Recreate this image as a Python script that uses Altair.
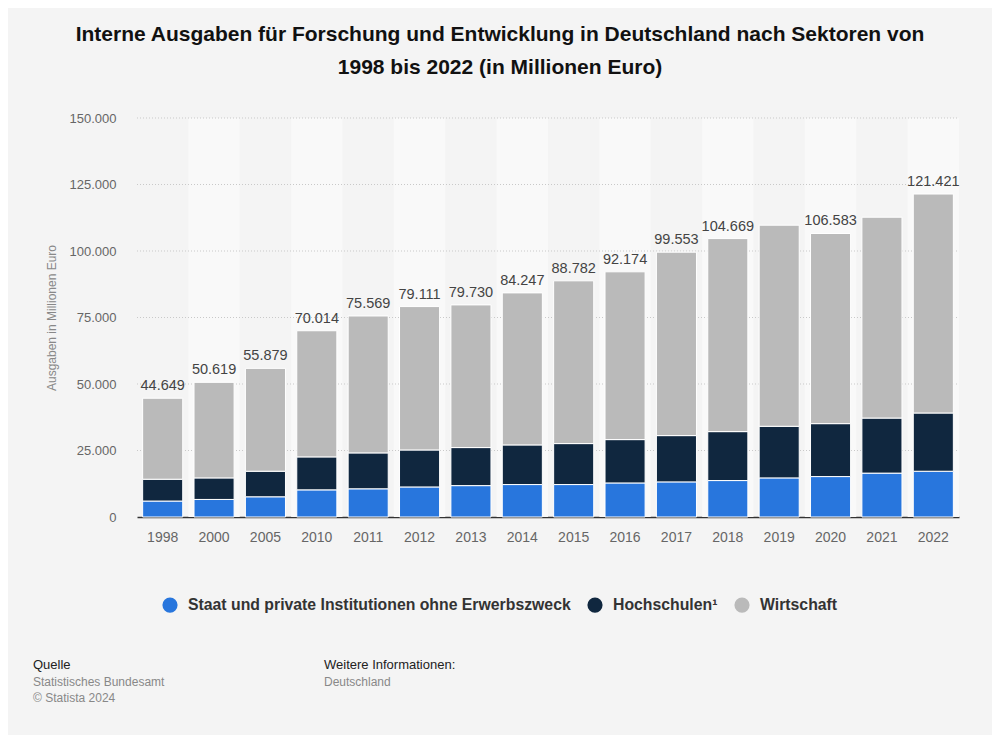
import altair as alt
import pandas as pd

years = ["1998", "2000", "2005", "2010", "2011", "2012", "2013", "2014",
         "2015", "2016", "2017", "2018", "2019", "2020", "2021", "2022"]
staat = [6000, 6600, 7600, 10200, 10600, 11300, 11800, 12200,
         12200, 12800, 13200, 13700, 14700, 15200, 16500, 17200]
hochschulen = [8200, 8100, 9600, 12400, 13500, 13900, 14300, 14900,
               15400, 16300, 17400, 18400, 19400, 19900, 20700, 21900]
wirtschaft = [30449, 35919, 38679, 47414, 51469, 53911, 53630, 57147,
              61182, 63074, 68953, 72569, 75600, 71483, 75500, 82321]
total_labels = ["44.649", "50.619", "55.879", "70.014", "75.569", "79.111", "79.730", "84.247",
                "88.782", "92.174", "99.553", "104.669", "", "106.583", "", "121.421"]
series_names = ["Staat und private Institutionen ohne Erwerbszweck", "Hochschulen¹", "Wirtschaft"]
series_colors = ["#2876dd", "#10273f", "#bababa"]
band_years = ["2000", "2010", "2012", "2014", "2016", "2018", "2020", "2022"]
grid_values = [25000, 50000, 75000, 100000, 125000, 150000]

rows = []
for i, y in enumerate(years):
    for k, vals in enumerate([staat, hochschulen, wirtschaft]):
        rows.append({"Jahr": y, "Sektor": series_names[k], "Wert": vals[i], "ord": k})
df = pd.DataFrame(rows)
totals = pd.DataFrame({
    "Jahr": years,
    "Total": [staat[i] + hochschulen[i] + wirtschaft[i] for i in range(len(years))],
    "Label": total_labels,
})
bands = pd.DataFrame({"Jahr": band_years, "top": [150000] * len(band_years), "bot": [0] * len(band_years)})
grid = pd.DataFrame({"v": grid_values})

W, H = 822, 399
xscale = alt.Scale(domain=years, paddingInner=0.22, paddingOuter=0.11)
yscale = alt.Scale(domain=[0, 150000])
xenc = alt.X("Jahr:N", scale=xscale, sort=years,
             axis=alt.Axis(title=None, labelAngle=0, labelFontSize=14, labelColor="#666666",
                           labelPadding=13, ticks=False, domainColor="#333333", domainWidth=1.5,
                           labelFont="Liberation Sans"))

band_layer = alt.Chart(bands).mark_bar(color="#f9f9f9", width=alt.RelativeBandSize(1.282)).encode(
    x=xenc,
    y=alt.Y("top:Q", scale=yscale,
            axis=alt.Axis(title=None, values=[0] + grid_values, grid=False, domain=False, ticks=False,
                          labelFontSize=13, labelColor="#666666", labelPadding=21,
                          labelFont="Liberation Sans",
                          labelExpr="replace(format(datum.value, ','), ',', '.')")),
    y2="bot:Q",
)

grid_layer = alt.Chart(grid).mark_rule(color="#c9c9c9", strokeDash=[1, 2], strokeWidth=1).encode(
    y=alt.Y("v:Q", scale=yscale),
    x=alt.value(0), x2=alt.value(W),
)

bar_layer = alt.Chart(df).mark_bar(stroke="#ffffff", strokeWidth=1).encode(
    x=xenc,
    y=alt.Y("Wert:Q", stack="zero", scale=yscale),
    color=alt.Color("Sektor:N",
                    scale=alt.Scale(domain=series_names, range=series_colors),
                    legend=alt.Legend(title=None, orient="none", direction="horizontal",
                                      legendX=25, legendY=479, symbolType="circle", symbolSize=230,
                                      symbolStrokeWidth=0, labelFontSize=15.8, labelFontWeight="bold",
                                      labelColor="#333333", labelFont="Liberation Sans",
                                      columnPadding=16, labelOffset=10, padding=0,
                                      labelLimit=500)),
    order=alt.Order("ord:Q", sort="ascending"),
)

label_layer = alt.Chart(totals).mark_text(baseline="bottom", dy=-5, fontSize=14.5, color="#444444",
                                          font="Liberation Sans").encode(
    x=xenc, y=alt.Y("Total:Q", scale=yscale), text="Label:N",
)

texts = pd.DataFrame({
    "t": ["Interne Ausgaben für Forschung und Entwicklung in Deutschland nach Sektoren von",
          "1998 bis 2022 (in Millionen Euro)"],
    "x": [363, 363], "y": [-83, -50],
})
title_layer = alt.Chart(texts).mark_text(fontSize=21, fontWeight="bold", color="#111111",
                                         font="Liberation Sans", baseline="middle", align="center").encode(
    x=alt.X("x:Q", scale=None), y=alt.Y("y:Q", scale=None), text="t:N")

foot_dark = pd.DataFrame({"t": ["Quelle", "Weitere Informationen:"], "x": [-104, 187], "y": [547, 547]})
foot_grey = pd.DataFrame({"t": ["Statistisches Bundesamt", "© Statista 2024", "Deutschland"],
                          "x": [-104, -104, 187], "y": [564, 580, 564]})
fd_layer = alt.Chart(foot_dark).mark_text(fontSize=13, color="#222222", font="Liberation Sans",
                                          align="left", baseline="middle").encode(
    x=alt.X("x:Q", scale=None), y=alt.Y("y:Q", scale=None), text="t:N")
fg_layer = alt.Chart(foot_grey).mark_text(fontSize=12, color="#888888", font="Liberation Sans",
                                          align="left", baseline="middle").encode(
    x=alt.X("x:Q", scale=None), y=alt.Y("y:Q", scale=None), text="t:N")

ytitle = pd.DataFrame({"t": ["Ausgaben in Millionen Euro"], "x": [-85], "y": [200]})
yt_layer = alt.Chart(ytitle).mark_text(fontSize=12, color="#888888", font="Liberation Sans",
                                       angle=270, align="center", baseline="middle").encode(
    x=alt.X("x:Q", scale=None), y=alt.Y("y:Q", scale=None), text="t:N")

chart = alt.layer(band_layer, grid_layer, bar_layer, label_layer, title_layer, fd_layer, fg_layer,
                  yt_layer).resolve_scale(x="shared").properties(
    width=W, height=H,
    autosize=alt.AutoSizeParams(type="none"),
    padding={"left": 129, "top": 110, "right": 33, "bottom": 218},
    background="#f4f4f4",
).configure_view(stroke=None)

chart.save("out.html", embed_options={"renderer": "svg", "actions": False})
